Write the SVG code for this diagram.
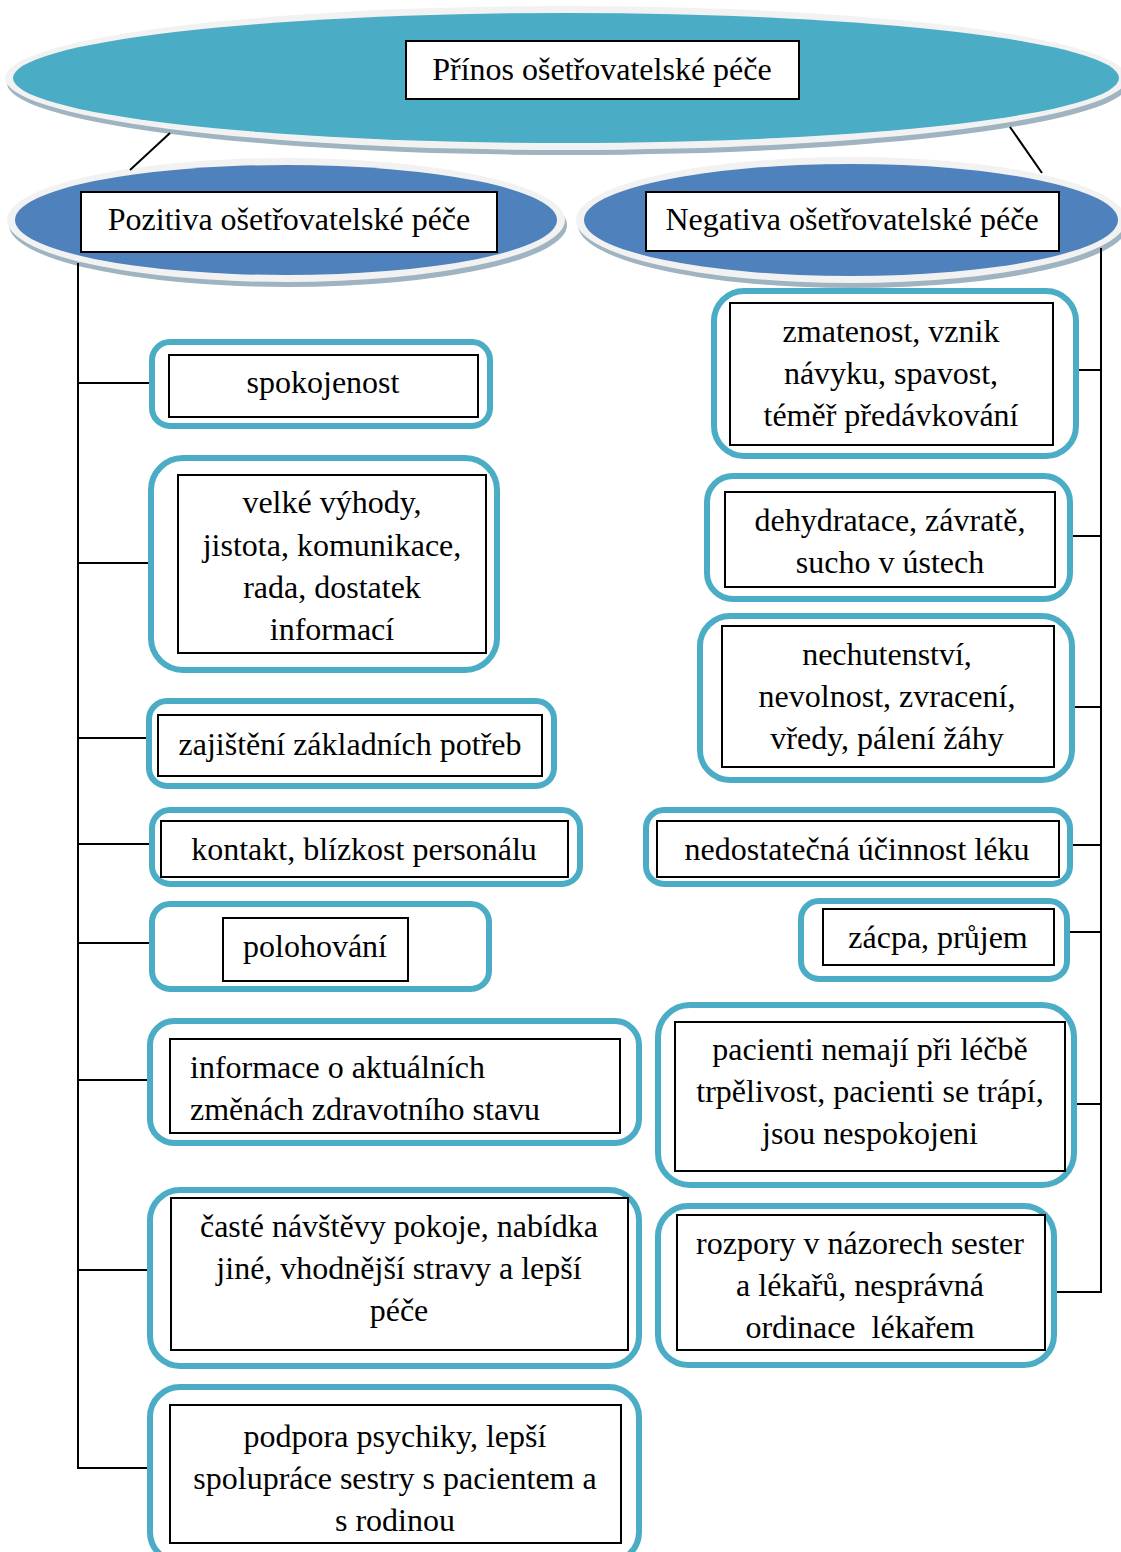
<svg xmlns="http://www.w3.org/2000/svg" width="1121" height="1552" viewBox="0 0 1121 1552">
  <style>
    .t{font-family:"Liberation Serif","Times New Roman",serif;font-size:32px;fill:#000;text-anchor:middle}
    .tl{text-anchor:start}
    .outer{fill:#fff;stroke:#4BACC6;stroke-width:6}
    .inner{fill:#fff;stroke:#000;stroke-width:2}
    .conn{stroke:#000;stroke-width:2;fill:none}
    .shadow{fill:#9FB4C0}
    .rim{fill:#F2F2F2}
    .teal{fill:#4BACC6}
    .blue{fill:#4F81BD}
  </style>
  <rect width="1121" height="1552" fill="#fff"/>

  <!-- root disc -->
  <g id="root">
    <ellipse class="shadow" cx="568" cy="83" rx="561" ry="72"/>
    <ellipse class="rim" cx="566" cy="78" rx="561" ry="72"/>
    <ellipse class="teal" cx="566" cy="78" rx="553" ry="65"/>
    <rect class="inner" x="406" y="41" width="393" height="58"/>
    <text class="t" x="602" y="80">Přínos ošetřovatelské péče</text>
  </g>

  <!-- positive branch disc -->
  <g id="pozitiva">
    <ellipse class="shadow" cx="288" cy="225" rx="279" ry="62"/>
    <ellipse class="rim" cx="286" cy="220" rx="279" ry="62"/>
    <ellipse class="blue" cx="286" cy="220" rx="271" ry="55"/>
    <rect class="inner" x="81" y="192" width="416" height="60"/>
    <text class="t" x="289" y="230">Pozitiva ošetřovatelské péče</text>
  </g>

  <!-- negative branch disc -->
  <g id="negativa">
    <ellipse class="shadow" cx="853" cy="225" rx="275" ry="63"/>
    <ellipse class="rim" cx="851" cy="220" rx="275" ry="63"/>
    <ellipse class="blue" cx="851" cy="220" rx="267" ry="56"/>
    <rect class="inner" x="646" y="192" width="413" height="59"/>
    <text class="t" x="852" y="230">Negativa ošetřovatelské péče</text>
  </g>

  <!-- connectors -->
  <g id="connectors">
    <line class="conn" x1="170" y1="133" x2="130" y2="170"/>
    <line class="conn" x1="1010" y1="127" x2="1042" y2="173"/>
    <path class="conn" d="M78 263 V1468 H150"/>
    <path class="conn" d="M78 383 H152 M78 563 H151 M78 738 H149 M78 844 H152 M78 943 H152 M78 1080 H150 M78 1270 H150"/>
    <path class="conn" d="M1101 248 V1292 H1057"/>
    <path class="conn" d="M1076 370 H1101 M1070 536 H1101 M1072 707 H1101 M1070 845 H1101 M1067 932 H1101 M1074 1104 H1101"/>
  </g>

  <!-- positive items -->
  <g id="p1">
    <rect class="outer" x="152" y="342" width="338" height="84" rx="18"/>
    <rect class="inner" x="169" y="355" width="309" height="62"/>
    <text class="t" x="323" y="393">spokojenost</text>
  </g>
  <g id="p2">
    <rect class="outer" x="151" y="458" width="346" height="212" rx="32"/>
    <rect class="inner" x="178" y="475" width="308" height="178"/>
    <text class="t" x="332" y="513">velké výhody,</text>
    <text class="t" x="332" y="556">jistota, komunikace,</text>
    <text class="t" x="332" y="598">rada, dostatek</text>
    <text class="t" x="332" y="640">informací</text>
  </g>
  <g id="p3">
    <rect class="outer" x="149" y="701" width="405" height="85" rx="18"/>
    <rect class="inner" x="158" y="715" width="384" height="61"/>
    <text class="t" x="350" y="755">zajištění základních potřeb</text>
  </g>
  <g id="p4">
    <rect class="outer" x="152" y="810" width="428" height="74" rx="18"/>
    <rect class="inner" x="161" y="821" width="407" height="56"/>
    <text class="t" x="364" y="860">kontakt, blízkost personálu</text>
  </g>
  <g id="p5">
    <rect class="outer" x="152" y="904" width="337" height="85" rx="18"/>
    <rect class="inner" x="223" y="918" width="185" height="63"/>
    <text class="t" x="315" y="957">polohování</text>
  </g>
  <g id="p6">
    <rect class="outer" x="150" y="1021" width="489" height="122" rx="24"/>
    <rect class="inner" x="170" y="1039" width="450" height="94"/>
    <text class="t tl" x="190" y="1078">informace o aktuálních</text>
    <text class="t tl" x="190" y="1120">změnách zdravotního stavu</text>
  </g>
  <g id="p7">
    <rect class="outer" x="150" y="1190" width="489" height="176" rx="30"/>
    <rect class="inner" x="171" y="1198" width="457" height="152"/>
    <text class="t" x="399" y="1237">časté návštěvy pokoje, nabídka</text>
    <text class="t" x="399" y="1279">jiné, vhodnější stravy a lepší</text>
    <text class="t" x="399" y="1321">péče</text>
  </g>
  <g id="p8">
    <rect class="outer" x="150" y="1387" width="489" height="175" rx="30"/>
    <rect class="inner" x="170" y="1405" width="451" height="138"/>
    <text class="t" x="395" y="1447">podpora psychiky, lepší</text>
    <text class="t" x="395" y="1489">spolupráce sestry s pacientem a</text>
    <text class="t" x="395" y="1531">s rodinou</text>
  </g>

  <!-- negative items -->
  <g id="n1">
    <rect class="outer" x="714" y="291" width="362" height="165" rx="30"/>
    <rect class="inner" x="730" y="303" width="323" height="142"/>
    <text class="t" x="891" y="342">zmatenost, vznik</text>
    <text class="t" x="891" y="384">návyku, spavost,</text>
    <text class="t" x="891" y="426">téměř předávkování</text>
  </g>
  <g id="n2">
    <rect class="outer" x="707" y="476" width="363" height="123" rx="26"/>
    <rect class="inner" x="725" y="492" width="330" height="95"/>
    <text class="t" x="890" y="531">dehydratace, závratě,</text>
    <text class="t" x="890" y="573">sucho v ústech</text>
  </g>
  <g id="n3">
    <rect class="outer" x="700" y="616" width="372" height="164" rx="30"/>
    <rect class="inner" x="722" y="626" width="332" height="141"/>
    <text class="t" x="887" y="665">nechutenství,</text>
    <text class="t" x="887" y="707">nevolnost, zvracení,</text>
    <text class="t" x="887" y="749">vředy, pálení žáhy</text>
  </g>
  <g id="n4">
    <rect class="outer" x="646" y="810" width="424" height="74" rx="18"/>
    <rect class="inner" x="657" y="821" width="402" height="56"/>
    <text class="t" x="857" y="860">nedostatečná účinnost léku</text>
  </g>
  <g id="n5">
    <rect class="outer" x="801" y="901" width="266" height="78" rx="18"/>
    <rect class="inner" x="823" y="909" width="231" height="56"/>
    <text class="t" x="938" y="948">zácpa, průjem</text>
  </g>
  <g id="n6">
    <rect class="outer" x="658" y="1005" width="416" height="180" rx="32"/>
    <rect class="inner" x="675" y="1022" width="390" height="149"/>
    <text class="t" x="870" y="1060">pacienti nemají při léčbě</text>
    <text class="t" x="870" y="1102">trpělivost, pacienti se trápí,</text>
    <text class="t" x="870" y="1144">jsou nespokojeni</text>
  </g>
  <g id="n7">
    <rect class="outer" x="658" y="1206" width="396" height="159" rx="30"/>
    <rect class="inner" x="677" y="1215" width="368" height="135"/>
    <text class="t" x="860" y="1254">rozpory v názorech sester</text>
    <text class="t" x="860" y="1296">a lékařů, nesprávná</text>
    <text class="t" x="860" y="1338">ordinace&#160; lékařem</text>
  </g>
</svg>
